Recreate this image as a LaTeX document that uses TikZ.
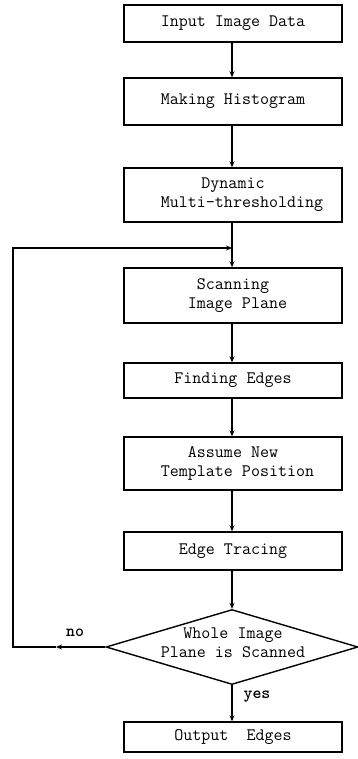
\documentclass[tikz,border=0pt]{standalone}
\usetikzlibrary{shapes.geometric,arrows.meta}
\begin{document}
\begin{tikzpicture}[x=1pt,y=-1pt,
  every node/.style={font=\ttfamily\fontsize{17.5}{19}\selectfont},
  box/.style={draw,line width=1.4pt,minimum width=218pt,inner sep=0pt,align=center},
  dia/.style={draw,line width=1.4pt,shape=diamond,minimum width=252pt,minimum height=75pt,inner sep=0pt},
  conn/.style={line width=1.2pt,-{Stealth[length=6pt,width=5pt]}},
  plain/.style={line width=1.2pt}]
\useasboundingbox (0,0) rectangle (358,759);
\node[box,minimum height=37pt] (b1) at (233,23.5) {Input Image Data};
\node[box,minimum height=47pt] (b2) at (233,101.5) {Making Histogram};
\node[box,minimum height=54pt] (b3) at (233,195) {Dynamic\\ \ \ Multi-thresholding};
\node[box,minimum height=55pt] (b4) at (233,295.5) {Scanning\\ \ Image Plane};
\node[box,minimum height=35pt] (b5) at (233,380.5) {Finding Edges};
\node[box,minimum height=53pt] (b6) at (233,463.5) {Assume New\\ \ Template Position};
\node[box,minimum height=38pt] (b7) at (233,551) {Edge Tracing};
\node[dia] (d) at (232,647) {};
\node[align=center,inner sep=0pt] (dt) at (233,643) {Whole Image\\Plane is Scanned};
\node[box,minimum height=30pt] (b8) at (233,737) {Output\ \ Edges};
\node[font=\ttfamily\bfseries\fontsize{17}{20}\selectfont] (no) at (75,633) {no};
\node[font=\ttfamily\bfseries\fontsize{17}{20}\selectfont] (yes) at (257,697) {yes};
\coordinate (j) at (232,248);
\coordinate (c1) at (56,647);
\coordinate (c2) at (13,647);
\coordinate (c3) at (13,248);
\draw[conn] (b1.south -| j) -- (b2.north -| j);
\draw[conn] (b2.south -| j) -- (b3.north -| j);
\draw[plain] (b3.south -| j) -- (j);
\draw[conn] (j) -- (b4.north -| j);
\draw[conn] (b4.south -| j) -- (b5.north -| j);
\draw[conn] (b5.south -| j) -- (b6.north -| j);
\draw[conn] (b6.south -| j) -- (b7.north -| j);
\draw[conn] (b7.south -| j) -- (d.north);
\draw[conn] (d.south) -- (b8.north -| d.south);
\draw[conn] (d.west) -- (c1);
\draw[conn] (c1) -- (c2) -- (c3) -- (j);
\end{tikzpicture}
\end{document}
